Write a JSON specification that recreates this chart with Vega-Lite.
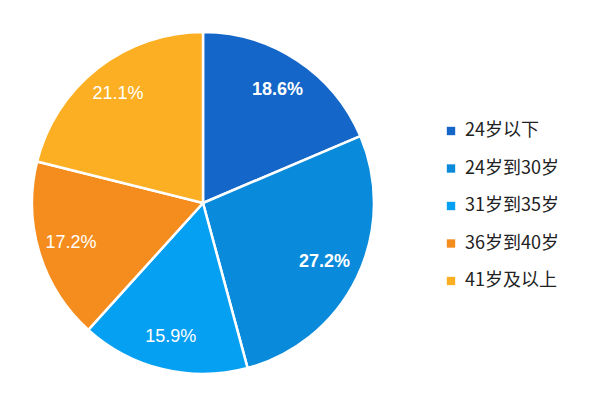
{
  "$schema": "https://vega.github.io/schema/vega-lite/v6.json",
  "width": 406,
  "height": 406,
  "padding": 0,
  "background": "white",
  "data": {
    "values": [
      {"idx": 1, "group": "24岁以下", "pct": 18.6, "label": "18.6%", "bold": true},
      {"idx": 2, "group": "24岁到30岁", "pct": 27.2, "label": "27.2%", "bold": true},
      {"idx": 3, "group": "31岁到35岁", "pct": 15.9, "label": "15.9%", "bold": false},
      {"idx": 4, "group": "36岁到40岁", "pct": 17.2, "label": "17.2%", "bold": false},
      {"idx": 5, "group": "41岁及以上", "pct": 21.1, "label": "21.1%", "bold": false}
    ]
  },
  "encoding": {
    "theta": {"field": "pct", "type": "quantitative", "stack": true},
    "order": {"field": "idx", "type": "quantitative"}
  },
  "layer": [
    {
      "mark": {"type": "arc", "outerRadius": 171, "stroke": "white", "strokeWidth": 2.5},
      "encoding": {
        "color": {
          "field": "group",
          "type": "nominal",
          "scale": {
            "domain": ["24岁以下", "24岁到30岁", "31岁到35岁", "36岁到40岁", "41岁及以上"],
            "range": ["#1467C8", "#0A8ADA", "#06A0F3", "#F58C1E", "#FCAF23"]
          },
          "legend": {
            "title": null,
            "orient": "none",
            "legendX": 442,
            "legendY": 122,
            "padding": 0,
            "symbolType": "square",
            "symbolSize": 70,
            "symbolStrokeWidth": 0,
            "labelFont": "Noto Sans CJK SC",
            "labelFontSize": 18,
            "labelColor": "#222222",
            "labelOffset": 5,
            "rowPadding": 19.5
          }
        }
      }
    },
    {
      "mark": {"type": "text", "radius": 135, "font": "Liberation Sans", "fontSize": 18, "fontWeight": "bold", "fill": "white"},
      "encoding": {
        "text": {"condition": {"test": "datum.bold", "field": "label"}, "value": ""}
      }
    },
    {
      "mark": {"type": "text", "radius": 138, "font": "Liberation Sans", "fontSize": 18, "fill": "white"},
      "encoding": {
        "text": {"condition": {"test": "!datum.bold", "field": "label"}, "value": ""}
      }
    }
  ]
}
